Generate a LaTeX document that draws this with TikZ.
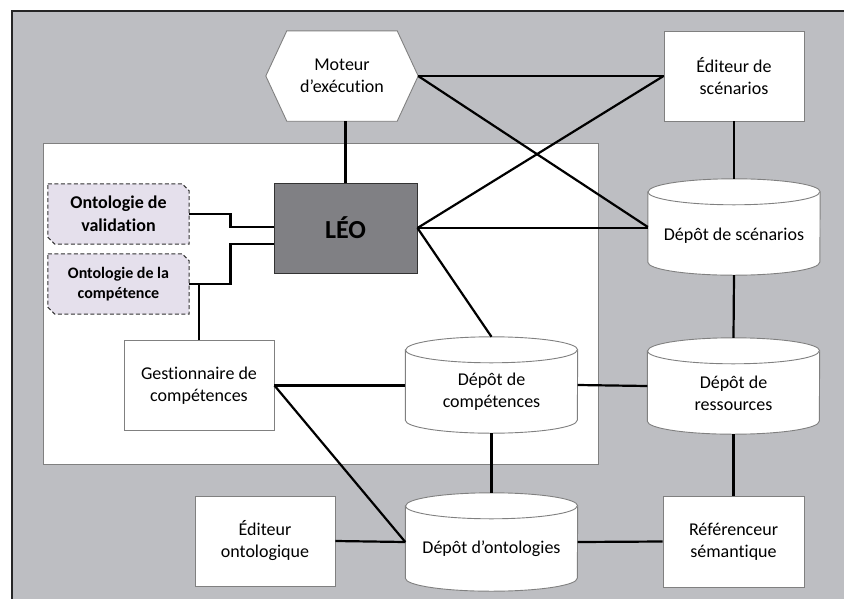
\documentclass[tikz,border=0pt]{standalone}
\usepackage{fontspec}
\setmainfont{Carlito}[Ligatures=CommonOff]
\usetikzlibrary{calc}
\pgfdeclarelayer{back}
\pgfdeclarelayer{bg}
\pgfsetlayers{back,bg,main}

\definecolor{bggray}{RGB}{189,190,194}
\definecolor{lav}{RGB}{229,224,236}
\definecolor{leogray}{RGB}{128,128,132}
\definecolor{edgegray}{RGB}{128,128,128}

\tikzset{
  box/.style={draw=edgegray, fill=white, line width=0.9pt, minimum width=140pt, minimum height=90pt,
    align=center, inner sep=0pt, font=\fontsize{18}{22}\selectfont},
  ghost/.style={minimum width=#1, inner sep=0pt, align=center, font=\fontsize{18}{22}\selectfont},
  cylbox/.style={minimum width=172pt, minimum height=96pt, inner sep=0pt},
  cyltext/.style={align=center, inner sep=0pt, font=\fontsize{18}{22}\selectfont},
  shapeline/.style={draw=edgegray, line width=0.9pt, fill=white},
  ontoline/.style={draw=black!80, line width=1pt, fill=lav, dash pattern=on 4pt off 2.5pt},
  conn/.style={line width=2.2pt, black},
}

\newcommand{\cylshape}[1]{%
  \begin{pgfonlayer}{bg}
  \path[shapeline] ($(#1.north west)+(0,13)$) -- ($(#1.south west)+(0,-13)$)
     arc[start angle=180, end angle=360, x radius=86pt, y radius=13pt]
     -- ($(#1.north east)+(0,13)$)
     arc[start angle=0, end angle=180, x radius=86pt, y radius=13pt] -- cycle;
  \draw[edgegray, line width=0.9pt] ($(#1.north west)+(0,13)$)
     arc[start angle=180, end angle=360, x radius=86pt, y radius=13pt];
  \end{pgfonlayer}}

\newcommand{\ontoshape}[1]{%
  \begin{pgfonlayer}{bg}
  \path[ontoline] (#1.north west) -- ($(#1.north east)+(-7,0)$) -- ($(#1.north east)+(0,7)$)
     -- (#1.south east) -- ($(#1.south west)+(7,0)$) -- ($(#1.south west)+(0,-7)$) -- cycle;
  \end{pgfonlayer}}

\begin{document}
\begin{tikzpicture}[x=1pt,y=-1pt]
\useasboundingbox (0,0) rectangle (844,598);

% background
\begin{pgfonlayer}{back}
  \fill[bggray] (12,11) rectangle (850,605);
  \draw[black!85, line width=1.5pt] (12,605) -- (12,11) -- (850,11);
  \draw[edgegray, fill=white, line width=0.9pt] (43,143) rectangle (598,464);
\end{pgfonlayer}

% nodes
\node[ghost=152pt, minimum height=90pt] (mot) at (342,76) {Moteur\\d’exécution};
\begin{pgfonlayer}{bg}
  \path[shapeline] (mot.west) -- ($(mot.north west)+(21,0)$) -- ($(mot.north east)+(-21,0)$)
    -- (mot.east) -- ($(mot.south east)+(-21,0)$) -- ($(mot.south west)+(21,0)$) -- cycle;
\end{pgfonlayer}

\node[box] (edsc) at (734,76) {Éditeur de\\scénarios};

\node[box, fill=leogray, draw=black!80, minimum width=143pt, minimum height=90pt,
  font=\fontsize{26}{30}\selectfont\bfseries] (leo) at (345.5,228) {LÉO};

\node[ghost=141pt, minimum height=60pt, font=\fontsize{18}{23}\selectfont\bfseries] (oval) at (118.5,214) {Ontologie de\\validation};
\ontoshape{oval}
\node[ghost=141pt, minimum height=60pt, font=\fontsize{16}{20}\selectfont\bfseries] (ocomp) at (118.5,284) {Ontologie de la\\compétence};
\ontoshape{ocomp}

\node[cylbox] (dsc) at (734,227) {};
\cylshape{dsc}
\node[cyltext] (dsct) at (734,236) {Dépôt de scénarios};

\node[box, minimum width=150pt] (gest) at (199,385.5) {Gestionnaire de\\compétences};

\node[cylbox] (dcomp) at (491.5,385) {};
\cylshape{dcomp}
\node[cyltext] (dcompt) at (491.5,392) {Dépôt de\\compétences};

\node[cylbox] (dres) at (733.5,386) {};
\cylshape{dres}
\node[cyltext] (drest) at (733.5,393) {Dépôt de\\ressources};

\node[box] (edont) at (265,541) {Éditeur\\ontologique};

\node[cylbox, minimum height=98pt] (dont) at (491.5,542) {};
\cylshape{dont}
\node[cyltext] (dontt) at (491.5,549) {Dépôt d’ontologies};

\node[box, minimum width=141pt, minimum height=91pt] (ref) at (733.5,541.5) {Référenceur\\sémantique};

% connectors
\coordinate (la) at ($(leo.west)+(0,-1)$);
\coordinate (lb) at ($(leo.west)+(0,16)$);
\draw[conn] (oval.east) -| ($(la)+(-43,0)$) -- (la);
\draw[conn] (ocomp.east) -| ($(lb)+(-43,0)$) -- (lb);
\draw[conn] (gest.north) -- (gest.north |- ocomp.east);

\draw[conn] (leo.north) -- (leo.north |- mot.south);
\draw[conn] (mot.east) -- (edsc.west);
\draw[conn] (mot.east) -- (dsc.west);
\draw[conn] (edsc.west) -- (leo.east);
\draw[conn] (leo.east) -- (leo.east -| dsc.west);
\draw[conn] (leo.east) -- (dcomp.north);
\draw[conn] (edsc.south) -- (dsc.north);
\draw[conn] (dsc.south) -- (dres.north);
\draw[conn] (dres.south) -- (ref.north);

\draw[conn] (gest.east) -- (gest.east -| dcomp.west);
\draw[conn] (gest.east) -- (dont.west);
\draw[conn] (dcomp.east) -- (dres.west);
\draw[conn] (dcomp.south) -- (dont.north);
\draw[conn] (edont.east) -- (dont.west);
\draw[conn] (dont.east) -- (ref.west);
\end{tikzpicture}
\end{document}
